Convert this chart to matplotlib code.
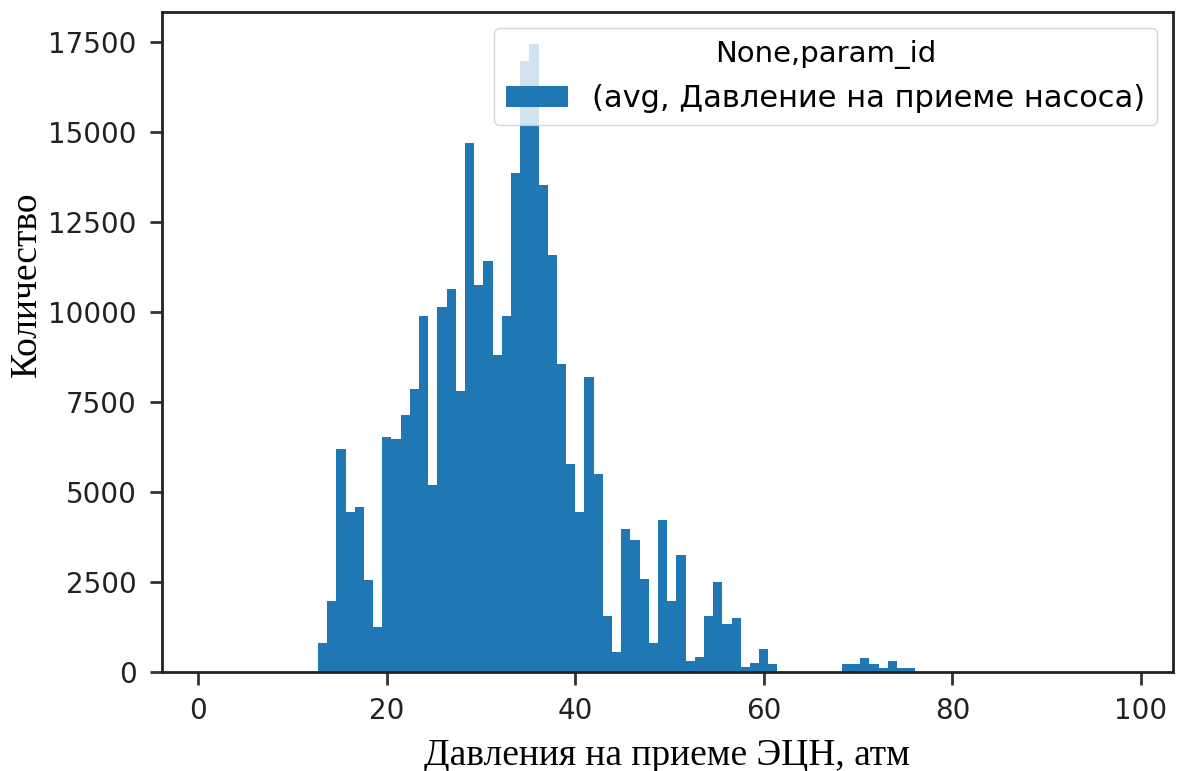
import numpy as np
import matplotlib
matplotlib.use('Agg')
import matplotlib.pyplot as plt

# histogram of pump intake pressure: 100 bins between data min and max
data_min = 1.0
data_max = 98.5
n_bins = 100

# counts per bin (bins 12..76 carry data, the rest are empty)
first_bin = 12
visible_counts = [
    800, 1970, 6190, 4430, 4580, 2560, 1230, 6520, 6460, 7130,   # 12-21
    7870, 9900, 5180, 10140, 10650, 7800, 14690, 10740, 11410, 8810,  # 22-31
    9900, 13850, 16980, 17450, 13520, 11590, 8540, 5780, 4440, 8190,  # 32-41
    5500, 1560, 560, 3980, 3660, 2570, 790, 4230, 1970, 3240,  # 42-51
    310, 400, 1560, 2480, 1330, 1480, 140, 230, 630, 210,  # 52-61
    0, 0, 0, 0, 0, 0, 0,  # 62-68
    210, 210, 370, 210, 95, 300, 110, 110,  # 69-76
]

series_label = '(avg, Давление на приеме насоса)'
legend_title = 'None,param_id'
xlabel = 'Давления на приеме ЭЦН, атм'
ylabel = 'Количество'

counts = np.zeros(n_bins)
counts[first_bin:first_bin + len(visible_counts)] = visible_counts
edges = np.linspace(data_min, data_max, n_bins + 1)
centers = (edges[:-1] + edges[1:]) / 2

fig = plt.figure(figsize=(11.77, 7.71), dpi=100)
ax = fig.add_axes([0.1374, 0.1288, 0.8589, 0.855])

ax.hist(centers, bins=edges, weights=counts, color='#1f77b4', label=series_label)

for side in ['left', 'right', 'top', 'bottom']:
    ax.spines[side].set_linewidth(2.0)
    ax.spines[side].set_color('#222222')
ax.tick_params(labelsize=20, length=9, width=2.0, color='#333333', labelcolor='#222222', pad=9)

ax.set_xlabel(xlabel, family='Liberation Serif', fontsize=27, labelpad=10)
ax.set_ylabel(ylabel, family='Liberation Serif', fontsize=27)
# the y label sits above the axes centre in the reference
ax.yaxis.set_label_coords(-0.117, 0.587)

leg = ax.legend(title=legend_title, loc='upper right', fontsize=22, title_fontsize=21)

fig.savefig('out.png', dpi=100)
